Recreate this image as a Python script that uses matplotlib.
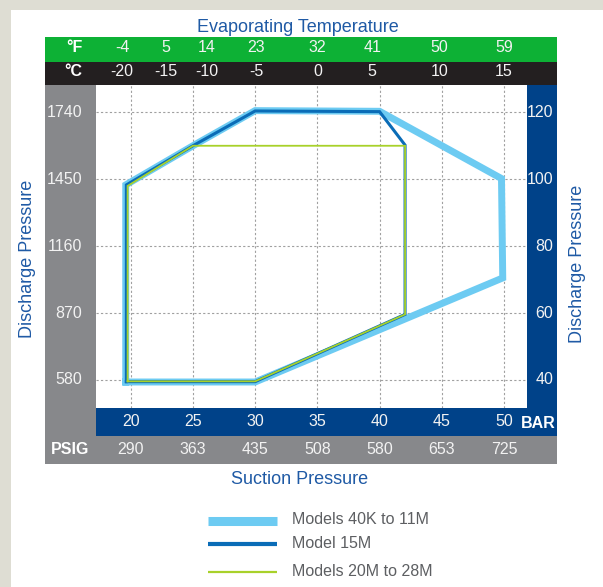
import matplotlib
matplotlib.use("Agg")
import matplotlib.pyplot as plt
from matplotlib.patches import Rectangle
from matplotlib.lines import Line2D
from matplotlib import transforms

plt.rcParams['font.family'] = ['Liberation Sans Narrow', 'Liberation Sans', 'DejaVu Sans']

# ---- data ----
bar_ticks = [20, 25, 30, 35, 40, 45, 50]
psig_suction = ['290', '363', '435', '508', '580', '653', '725']
bar_discharge = [40, 60, 80, 100, 120]
psig_discharge = ['580', '870', '1160', '1450', '1740']
temp_pos = [19.3, 22.8, 26.1, 30.1, 35.0, 39.4, 44.8, 50.0]
temp_c = ['-20', '-15', '-10', '-5', '0', '5', '10', '15']
temp_f = ['-4', '5', '14', '23', '32', '41', '50', '59']

# envelopes: suction bar, discharge bar
env_40k_x = [19.6, 19.6, 25.0, 30.0, 40.0, 49.8, 49.9, 30.0, 19.6]
env_40k_y = [39.4, 98.3, 110.0, 120.5, 120.3, 100.2, 70.5, 39.4, 39.4]
env_15m_x = [19.65, 19.65, 25.0, 30.0, 40.0, 42.05, 42.05, 30.0, 19.65]
env_15m_y = [39.5, 98.3, 110.0, 120.4, 120.2, 110.2, 59.6, 39.5, 39.5]
env_20m_x = [19.75, 19.75, 25.0, 42.05, 42.05, 30.0, 19.75]
env_20m_y = [39.6, 98.0, 110.0, 110.0, 59.6, 39.6, 39.6]

labels = ['Models 40K to 11M', 'Model 15M', 'Models 20M to 28M']

# colours
beige = '#deddd3'
band_green = '#0db135'
band_black = '#231f20'
band_gray = '#87888b'
navy = '#004289'
txt_navy = '#1f5aa5'
c_light = '#6dcbf2'
c_dark = '#0a6cb7'
c_lime = '#a8d12a'

W, H = 603, 587
fig = plt.figure(figsize=(W / 100, H / 100), dpi=100)
fig.patch.set_facecolor('white')


def fx(px):
    return px / W


def fy(py):
    return 1 - py / H


def rect(x0, y0, x1, y1, color):
    fig.add_artist(Rectangle((fx(x0), fy(y1)), fx(x1) - fx(x0), fy(y0) - fy(y1),
                             transform=fig.transFigure, facecolor=color,
                             edgecolor='none', zorder=0))


# backgrounds
rect(0, 0, W, 10, beige)
rect(0, 0, 11, H, beige)
rect(45, 37, 557, 62, band_green)
rect(45, 62, 557, 85, band_black)
rect(45, 85, 96, 464, band_gray)
rect(96, 436, 557, 464, band_gray)
rect(527, 85, 557, 436, navy)
rect(96, 408, 557, 436, navy)

# plot area
ax = fig.add_axes([fx(96), fy(408), fx(527) - fx(96), fy(85) - fy(408)])
ax.set_xlim(17.21, 51.85)
ax.set_ylim(31.63, 128.16)
ax.set_facecolor('white')
for s in ax.spines.values():
    s.set_visible(False)
ax.set_xticks([])
ax.set_yticks([])
for b in bar_ticks:
    ax.axvline(b, color='#a0a0a0', lw=0.8, ls=(0, (2, 2)), zorder=1)
for b in bar_discharge:
    ax.axhline(b, color='#a0a0a0', lw=0.8, ls=(0, (2, 2)), zorder=1)

ax.plot(env_40k_x, env_40k_y, color=c_light, lw=5.0, solid_joinstyle='miter', zorder=2)
ax.plot(env_15m_x, env_15m_y, color=c_dark, lw=2.2, solid_joinstyle='miter', zorder=3)
ax.plot(env_20m_x, env_20m_y, color=c_lime, lw=1.3, solid_joinstyle='miter', zorder=4)

# tick labels
tx = transforms.blended_transform_factory(ax.transData, fig.transFigure)
ty = transforms.blended_transform_factory(fig.transFigure, ax.transData)
light = '#f2f2f2'

for p, f, c in zip(temp_pos, temp_f, temp_c):
    fig.text(p, fy(48), f, transform=tx, ha='center', va='center', color=light, fontsize=11.5)
    fig.text(p, fy(72), c, transform=tx, ha='center', va='center', color=light, fontsize=11.5)
fig.text(fx(74), fy(48), '°F', ha='center', va='center', color='white', fontsize=11.5, fontweight='bold')
fig.text(fx(73), fy(72), '°C', ha='center', va='center', color='white', fontsize=11.5, fontweight='bold')

for b, p in zip(bar_ticks, psig_suction):
    fig.text(b, fy(421), str(b), transform=tx, ha='center', va='center', color=light, fontsize=11.5)
    fig.text(b, fy(450), p, transform=tx, ha='center', va='center', color=light, fontsize=11.5)
fig.text(fx(538), fy(423), 'BAR', ha='center', va='center', color='white', fontsize=11.5, fontweight='bold')
fig.text(fx(70), fy(450), 'PSIG', ha='center', va='center', color='white', fontsize=11.5, fontweight='bold')

for b, p in zip(bar_discharge, psig_discharge):
    fig.text(fx(82.5), b, p, transform=ty, ha='right', va='center', color=light, fontsize=11.5)
    fig.text(fx(553), b, str(b), transform=ty, ha='right', va='center', color=light, fontsize=11.5)

# titles
fig.text(fx(298), fy(27), 'Evaporating Temperature', ha='center', va='center', color=txt_navy, fontsize=13)
fig.text(fx(300), fy(480), 'Suction Pressure', ha='center', va='center', color=txt_navy, fontsize=13)
fig.text(fx(28), fy(259), 'Discharge Pressure', ha='center', va='center', color=txt_navy,
         fontsize=13, rotation=90)
fig.text(fx(577), fy(264), 'Discharge Pressure', ha='center', va='center', color=txt_navy,
         fontsize=13, rotation=90)

# legend
leg_y = [521, 544, 572]
leg_lw = [6.5, 3.0, 1.6]
leg_c = [c_light, c_dark, c_lime]
for y, lw, c, lab in zip(leg_y, leg_lw, leg_c, labels):
    fig.add_artist(Line2D([fx(208), fx(277)], [fy(y), fy(y)], transform=fig.transFigure,
                          color=c, lw=lw, solid_capstyle='butt'))
    fig.text(fx(292), fy(y - 1), lab, ha='left', va='center', color='#5d5f62', fontsize=11.5)

fig.savefig('out.png', dpi=100, facecolor='white')
